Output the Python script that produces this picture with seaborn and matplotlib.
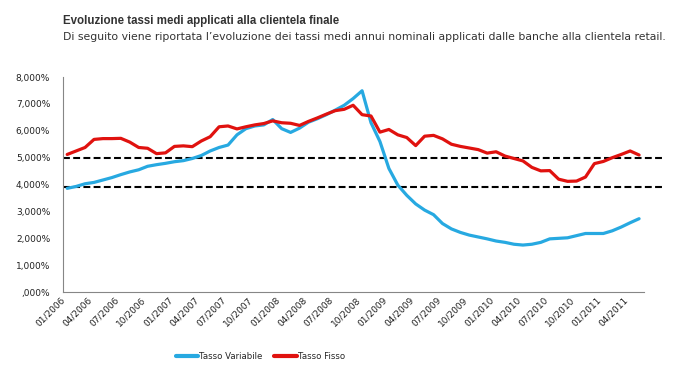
# grafico: evoluzione tassi medi applicati alla clientela finale

import pandas as pd
import matplotlib.pyplot as plt
import seaborn as sns
from matplotlib.lines import Line2D
from matplotlib.ticker import FuncFormatter

# dati mensili 01/2006 - 05/2011 (valori in %)
mesi = [f'{m:02d}/{a}' for a in range(2006, 2012) for m in range(1, 13)][:65]

tasso_variabile = [3.86, 3.93, 4.03, 4.08, 4.17, 4.26, 4.37, 4.47, 4.55, 4.68,
                   4.74, 4.79, 4.85, 4.89, 4.97, 5.08, 5.25, 5.38, 5.47, 5.85,
                   6.08, 6.18, 6.22, 6.42, 6.08, 5.94, 6.10, 6.32, 6.45, 6.60,
                   6.77, 6.95, 7.20, 7.49, 6.30, 5.60, 4.60, 3.98, 3.60, 3.28,
                   3.05, 2.88, 2.55, 2.35, 2.22, 2.12, 2.05, 1.98, 1.90, 1.85,
                   1.78, 1.75, 1.78, 1.85, 1.98, 2.00, 2.02, 2.10, 2.18, 2.18,
                   2.18, 2.28, 2.42, 2.58, 2.73]

tasso_fisso = [5.12, 5.25, 5.38, 5.68, 5.71, 5.71, 5.72, 5.58, 5.38, 5.35,
               5.15, 5.18, 5.42, 5.44, 5.41, 5.62, 5.78, 6.15, 6.18, 6.07,
               6.15, 6.22, 6.27, 6.37, 6.30, 6.28, 6.20, 6.35, 6.48, 6.62,
               6.75, 6.80, 6.95, 6.60, 6.55, 5.95, 6.05, 5.85, 5.75, 5.45,
               5.80, 5.83, 5.70, 5.50, 5.42, 5.36, 5.30, 5.17, 5.22, 5.06,
               4.97, 4.88, 4.64, 4.51, 4.52, 4.20, 4.12, 4.13, 4.28, 4.78,
               4.86, 5.00, 5.12, 5.25, 5.10]

soglie = [5.0, 3.9]

serie = ['Tasso Variabile', 'Tasso Fisso']
colori = ['#27a9e1', '#e0120f']

df = pd.DataFrame({'idx': range(len(mesi)),
                   'Tasso Variabile': tasso_variabile,
                   'Tasso Fisso': tasso_fisso})
df = df.melt(id_vars='idx', var_name='serie', value_name='valore')

sns.set_style('white')
plt.rcParams['font.family'] = ['DejaVu Sans']

fig = plt.figure(figsize=(6.76, 3.74), dpi=100)
ax = fig.add_axes([0.0928, 0.219, 0.8592, 0.575])

sns.lineplot(data=df, x='idx', y='valore', hue='serie', hue_order=serie,
             palette=colori, linewidth=2.3, legend=False, ax=ax)

# linee tratteggiate di riferimento (escono un po' dall'area del grafico)
for s in soglie:
    ax.axhline(s, xmin=0, xmax=1.036, color='black', lw=1.5,
               dashes=(3.3, 1.6), clip_on=False, zorder=1)

ax.set_xlim(-0.5, len(mesi) - 0.5)
ax.set_ylim(0, 8)

# etichette asse y stile Excel italiano
def fmt(v, pos):
    s = f'{v:.3f}'.replace('.', ',')
    if s.startswith('0'):
        s = s[1:]
    return s + '%'

ax.yaxis.set_major_formatter(FuncFormatter(fmt))
ax.set_yticks(range(0, 9))

pos = list(range(0, len(mesi), 3))
ax.set_xticks(pos)
ax.set_xticklabels([mesi[p] for p in pos], rotation=45, ha='right',
                   rotation_mode='default')
ax.set_xticks([p - 0.5 for p in pos], minor=True)
ax.tick_params(axis='x', which='major', length=0, labelsize=6.5, pad=2,
               colors='#222222')
ax.tick_params(axis='x', which='minor', length=3, color='#868686', width=0.8)
ax.tick_params(axis='y', which='major', length=3, color='#868686', width=0.8,
               labelsize=6.5, labelcolor='#222222', pad=6)

ax.set_xlabel('')
ax.set_ylabel('')
for lato in ['top', 'right']:
    ax.spines[lato].set_visible(False)
for lato in ['left', 'bottom']:
    ax.spines[lato].set_color('#868686')
    ax.spines[lato].set_linewidth(0.8)

# legenda
handles = [Line2D([0], [0], color=c, lw=3) for c in colori]
fig.legend(handles, serie, loc='center', bbox_to_anchor=(0.385, 0.048),
           ncol=2, frameon=False, fontsize=6.2, handlelength=2.6,
           handletextpad=0.1, columnspacing=1.4)

# titolo e sottotitolo
fig.text(0.0928, 0.943, 'Evoluzione tassi medi applicati alla clientela finale',
         fontsize=8.3, fontweight='bold', va='center', color='#333333',
         family=['Liberation Sans', 'DejaVu Sans'])
fig.text(0.0928, 0.901,
         'Di seguito viene riportata l\u2019evoluzione dei tassi medi annui nominali '
         'applicati dalle banche alla clientela retail.',
         fontsize=7.8, va='center', color='#333333')

plt.savefig('out.png', dpi=100)
